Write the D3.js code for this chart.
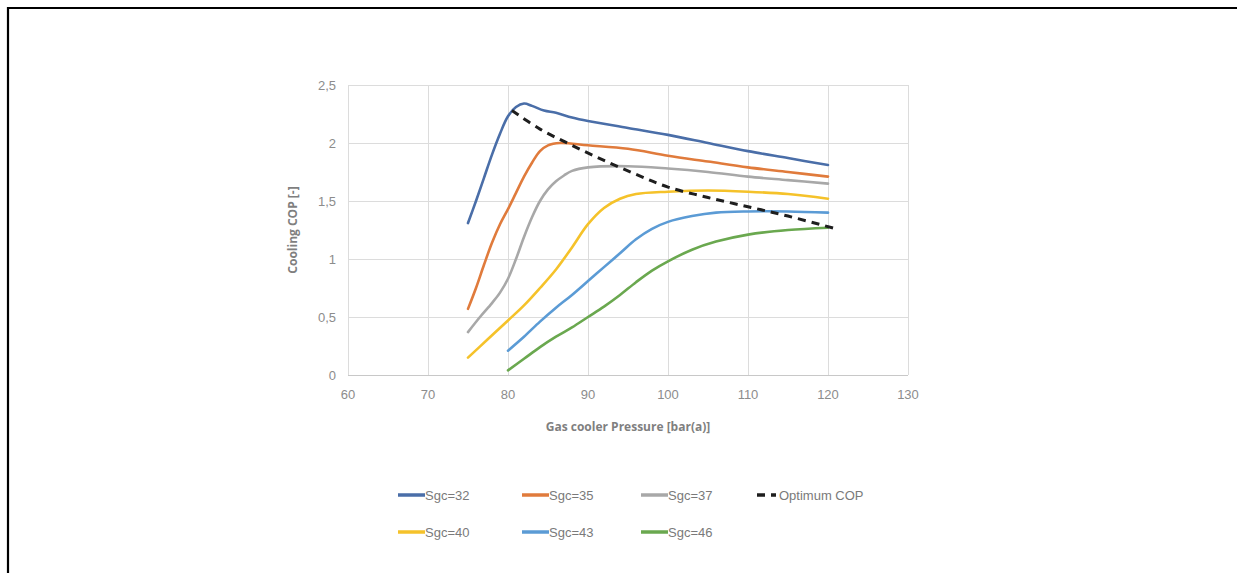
<!DOCTYPE html>
<html>
<head>
<meta charset="utf-8">
<script src="https://cdn.jsdelivr.net/npm/d3@7"></script>
<style>
body { margin: 0; background: #fff; }
text { font-family: "Liberation Sans", Arial, sans-serif; }
text.title { font-family: "Open Sans", sans-serif; font-weight: 700; }
</style>
</head>
<body>
<svg id="chart" width="1241" height="573"></svg>
<script>
var seriesNames = ["Sgc=32", "Sgc=35", "Sgc=37", "Sgc=40", "Sgc=43", "Sgc=46"];
var seriesColors = ["#4a6ea8", "#e07b3c", "#a8a8a8", "#f5c22a", "#5b9bd5", "#6aa84f"];

var sgc32 = [[75, 1.31], [76, 1.50], [77, 1.70], [78, 1.90], [79, 2.08], [80, 2.23], [81, 2.31], [82, 2.34], [83, 2.32],
    [84.5, 2.28], [86, 2.26], [88, 2.22], [90, 2.19], [95, 2.13], [100, 2.07], [105, 2.00], [110, 1.93], [115, 1.87], [120, 1.81]];
var sgc35 = [[75, 0.57], [76, 0.75], [77, 0.95], [78, 1.14], [79, 1.30], [80, 1.43], [81, 1.57], [82, 1.71], [83, 1.83],
    [84, 1.93], [85, 1.98], [86.5, 2.00], [90, 1.98], [95, 1.95], [100, 1.89], [105, 1.84], [110, 1.79], [115, 1.75], [120, 1.71]];
var sgc37 = [[75, 0.37], [76.5, 0.50], [78, 0.62], [79, 0.71], [80, 0.83], [81, 1.00], [82, 1.19], [83, 1.36],
    [84, 1.50], [85, 1.60], [86, 1.67], [87, 1.72], [88, 1.76], [90, 1.79], [95, 1.80], [100, 1.78], [105, 1.75], [110, 1.71], [115, 1.68], [120, 1.65]];
var sgc40 = [[75, 0.15], [77.5, 0.31], [80, 0.47], [82, 0.60], [84, 0.75], [86, 0.91], [88, 1.10], [90, 1.30],
    [92, 1.44], [94, 1.52], [96, 1.56], [100, 1.58], [105, 1.59], [110, 1.58], [115, 1.56], [120, 1.52]];
var sgc43 = [[80, 0.21], [82, 0.33], [84, 0.46], [86, 0.58], [88, 0.69], [90, 0.81], [92, 0.93], [94, 1.05], [96, 1.17],
    [98, 1.26], [100, 1.32], [103, 1.37], [106, 1.40], [110, 1.41], [115, 1.41], [120, 1.40]];
var sgc46 = [[80, 0.04], [82, 0.14], [84, 0.24], [86, 0.33], [88, 0.41], [90, 0.50], [92, 0.59], [94, 0.69], [96, 0.80],
    [98, 0.90], [100, 0.98], [103, 1.08], [106, 1.15], [110, 1.21], [115, 1.25], [120, 1.27]];
var optimumCop = [[80.5, 2.28], [84, 2.12], [88, 1.98], [92, 1.85], [96, 1.73], [100, 1.62], [105, 1.53], [110, 1.45], [115, 1.37], [121, 1.26]];

var xTicks = [60, 70, 80, 90, 100, 110, 120, 130];
var yTicks = [0, 0.5, 1, 1.5, 2, 2.5];

function init() {
    var svg = d3.select('#chart');
    var left = 348, right = 908, top = 85, bottom = 375;

    // frame round the figure
    svg.append('path')
        .attr('d', 'M8,573 L8,8 L1237,8')
        .attr('fill', 'none')
        .attr('stroke', '#000')
        .attr('stroke-width', 2.2);

    var x = d3.scaleLinear().domain([60, 130]).range([left, right]);
    var y = d3.scaleLinear().domain([0, 2.5]).range([bottom, top]);

    var grid = svg.append('g').attr('stroke', '#dcdcdc').attr('stroke-width', 1);
    grid.selectAll('.vx').data(xTicks).enter().append('line')
        .attr('x1', function (d) { return Math.round(x(d)) + 0.5; })
        .attr('x2', function (d) { return Math.round(x(d)) + 0.5; })
        .attr('y1', top).attr('y2', bottom);
    grid.selectAll('.hy').data(yTicks).enter().append('line')
        .attr('y1', function (d) { return Math.round(y(d)) + 0.5; })
        .attr('y2', function (d) { return Math.round(y(d)) + 0.5; })
        .attr('x1', left).attr('x2', right)
        .attr('stroke', function (d) { return d === 0 ? '#c8c8c8' : null; });

    var fmt = function (d) { return String(d).replace('.', ','); };

    svg.append('g').selectAll('text').data(xTicks).enter().append('text')
        .attr('x', function (d) { return x(d); })
        .attr('y', bottom + 24)
        .attr('text-anchor', 'middle')
        .attr('font-size', 13)
        .attr('fill', '#8c8c8c')
        .text(function (d) { return d; });

    svg.append('g').selectAll('text').data(yTicks).enter().append('text')
        .attr('x', left - 12)
        .attr('y', function (d) { return y(d) + 5; })
        .attr('text-anchor', 'end')
        .attr('font-size', 13)
        .attr('fill', '#8c8c8c')
        .text(fmt);

    svg.append('text')
        .attr('class', 'title')
        .attr('x', (left + right) / 2)
        .attr('y', 431)
        .attr('text-anchor', 'middle')
        .attr('font-size', 12)
        .attr('fill', '#7f7f7f')
        .text('Gas cooler Pressure [bar(a)]');

    svg.append('text')
        .attr('class', 'title')
        .attr('transform', 'translate(297,' + (top + bottom) / 2 + ') rotate(-90)')
        .attr('text-anchor', 'middle')
        .attr('font-size', 12)
        .attr('fill', '#7f7f7f')
        .text('Cooling COP [-]');

    var line = d3.line()
        .x(function (d) { return x(d[0]); })
        .y(function (d) { return y(d[1]); })
        .curve(d3.curveCatmullRom.alpha(0.5));

    var allSeries = [sgc32, sgc35, sgc37, sgc40, sgc43, sgc46];
    svg.append('g').selectAll('path').data(allSeries).enter().append('path')
        .attr('d', line)
        .attr('fill', 'none')
        .attr('stroke', function (d, i) { return seriesColors[i]; })
        .attr('stroke-width', 2.6)
        .attr('stroke-linecap', 'round');

    svg.append('path')
        .datum(optimumCop)
        .attr('d', line)
        .attr('fill', 'none')
        .attr('stroke', '#1e1e1e')
        .attr('stroke-width', 3)
        .attr('stroke-dasharray', '8,6');

    // legend
    var colX = [398, 522, 641];
    var rowY = [495, 532];
    var legend = svg.append('g');
    seriesNames.forEach(function (name, i) {
        var cx = colX[i % 3], cy = rowY[Math.floor(i / 3)];
        legend.append('line')
            .attr('x1', cx).attr('x2', cx + 27)
            .attr('y1', cy).attr('y2', cy)
            .attr('stroke', seriesColors[i])
            .attr('stroke-width', 3.5);
        legend.append('text')
            .attr('x', cx + 27).attr('y', cy + 5)
            .attr('font-size', 13)
            .attr('fill', '#7a7a7a')
            .text(name);
    });
    legend.append('line')
        .attr('x1', 757).attr('x2', 776)
        .attr('y1', rowY[0]).attr('y2', rowY[0])
        .attr('stroke', '#1e1e1e')
        .attr('stroke-width', 3.5)
        .attr('stroke-dasharray', '8,6');
    legend.append('text')
        .attr('x', 779).attr('y', rowY[0] + 5)
        .attr('font-size', 13)
        .attr('fill', '#7a7a7a')
        .text('Optimum COP');
}
init();
</script>
</body>
</html>
